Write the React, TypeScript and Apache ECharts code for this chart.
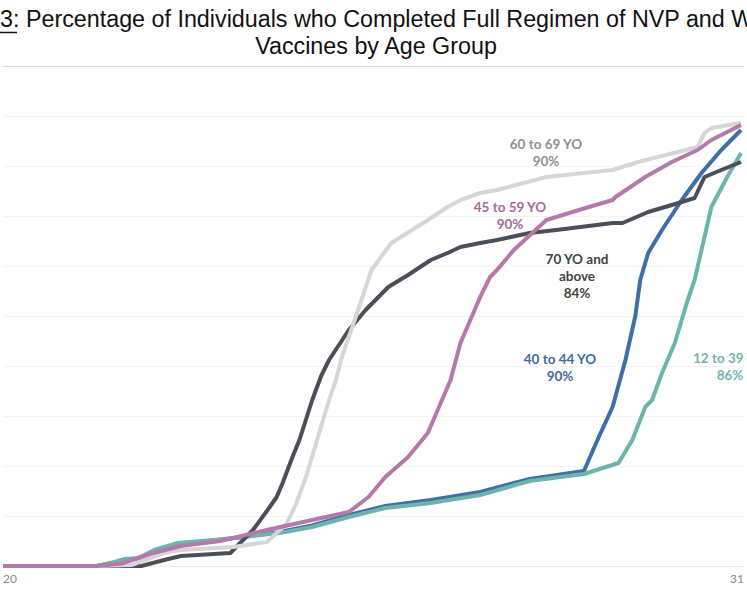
import { useEffect, useRef } from "react";
import * as echarts from "echarts";

// x = position along the time axis (0 .. 75), y = % fully vaccinated
const xTickLabels = ["20", "31"];

const age12to39 = [
  [0, 0], [9.5, 0], [11.3, 0.8], [12.3, 1.4], [13.7, 1.6], [15.3, 3.2], [17.7, 4.6],
  [21.3, 5.2], [24.3, 5.8], [28, 6.6], [31.3, 7.8], [35, 9.8], [38.7, 11.6], [43.3, 12.6],
  [48.3, 14.2], [53.3, 17], [58.8, 18.4], [62.3, 20.6], [63.7, 25.2], [65, 31.8],
  [65.7, 33.2], [66.7, 38.6], [68, 44.6], [69.3, 53.2], [70, 57.2], [71.7, 71.8],
  [73.3, 77.8], [74.7, 82.6],
];

const age40to44 = [
  [0, 0], [9.5, 0], [11.3, 0.7], [12.3, 1.2], [13.7, 1.5], [15.3, 3], [17.7, 4.4],
  [21.3, 5.1], [24.3, 5.8], [28, 6.8], [31.3, 8.1], [35, 10.2], [38.7, 12], [43.3, 13.2],
  [48.3, 14.8], [53.3, 17.4], [58.8, 19], [60.3, 25.8], [61.7, 31.8], [63, 41.2],
  [64, 50], [64.5, 57.2], [65.3, 62.6], [66.7, 67.2], [68.7, 73.2], [70.7, 78.6],
  [72.7, 83.2], [74.7, 87.2],
];

const age45to59 = [
  [0, 0], [9.5, 0], [12, 0.5], [15, 2.5], [18, 4], [22, 5], [26.7, 7.2], [31.3, 9.2],
  [35, 10.8], [37, 13.8], [38.7, 17.8], [41, 21.8], [43, 26.6], [44, 31.2], [45.3, 37.2],
  [46.3, 44.6], [48.3, 53.8], [49.3, 57.8], [50, 59.2], [51.7, 63.2], [55, 69.2],
  [59.3, 71.8], [61.7, 73.2], [62, 73.8], [65, 77.8], [67.7, 80.8], [70.3, 83.2],
  [71.7, 85.2], [74.7, 88.2],
];

const age60to69 = [
  [0, 0], [9.5, 0], [13, 0.2], [16.3, 2.6], [18, 3.2], [23.3, 3.8], [26.7, 4.8],
  [27.7, 6.6], [28.7, 8.4], [29.7, 12.6], [30.7, 18], [31.7, 24.6], [33, 33.2],
  [33.7, 37.2], [34.3, 41.8], [35.7, 49.8], [37.3, 59.2], [39.3, 64.6], [42.7, 68.8],
  [45, 71.8], [46.3, 73.2], [48.3, 74.6], [50, 75.2], [55, 77.8], [61.7, 79.2],
  [64.3, 80.8], [70.3, 83.8], [71, 86.6], [71.7, 87.6], [74.7, 88.6],
];

const age70plus = [
  [0, 0], [14, 0], [16.3, 1.2], [18, 2], [23, 2.6], [25, 6.6], [25.3, 7.2], [27, 11.8],
  [27.7, 13.8], [28.3, 16.6], [29.3, 21.8], [30, 25.2], [31.3, 33.2], [32.2, 38],
  [33, 41.2], [35, 47.2], [36.7, 51.2], [39, 55.8], [41, 58.2], [43.3, 61.2], [45, 62.6],
  [46.3, 63.8], [48.3, 64.6], [50, 65.2], [53.3, 66.6], [56, 67.2], [61.7, 68.6],
  [62.7, 68.6], [65.3, 70.8], [67.7, 72.2], [70, 73.6], [71, 77.8], [72.7, 79.2],
  [74.7, 80.8],
];

const seriesNames = ["40 to 44 YO", "12 to 39 YO", "70 YO and above", "60 to 69 YO", "45 to 59 YO"];
const seriesColors = ["#3f6fa5", "#6db5ac", "#4b5058", "#d6d6d6", "#b57aa9"];
const seriesData = [age40to44, age12to39, age70plus, age60to69, age45to59];

const labelFont = "Lato, 'Open Sans', sans-serif";
const titleFont = "23.3px 'Liberation Sans', Arial, sans-serif";

const App = () => {
  const chartRef = useRef(null);

  useEffect(() => {
    document.body.style.margin = "0";
    const chart = echarts.init(chartRef.current, null, { renderer: "svg" });

    // the 100% line is a little darker than the other grid lines
    const splitColors = ["#ececec", "#f3f3f3", "#f3f3f3", "#f3f3f3", "#f3f3f3", "#f3f3f3",
      "#f3f3f3", "#f3f3f3", "#f3f3f3", "#f3f3f3", "#d9d9d9"];

    const annot = (x: number, y: number, text: string, fill: string, align = "center") => ({
      type: "text",
      x,
      y,
      style: {
        text,
        font: `bold 13.5px ${labelFont}`,
        lineHeight: 17,
        fill,
        align,
        verticalAlign: "middle",
      },
    });

    const option = {
      animation: false,
      backgroundColor: "#ffffff",
      grid: { left: 0, right: 0, top: 66, bottom: 32, containLabel: false },
      xAxis: {
        type: "value",
        min: 0,
        max: 75,
        axisLine: { show: true, lineStyle: { color: "#ececec", width: 1 } },
        axisTick: { show: false },
        splitLine: { show: false },
        axisLabel: {
          customValues: [0, 75],
          formatter: (v: number) => (v === 0 ? xTickLabels[0] : xTickLabels[1]),
          alignMinLabel: "left",
          alignMaxLabel: "right",
          color: "#8a8a8a",
          fontFamily: labelFont,
          fontSize: 12,
          margin: 6,
        },
      },
      yAxis: {
        type: "value",
        min: 0,
        max: 100,
        interval: 10,
        axisLine: { show: false },
        axisTick: { show: false },
        axisLabel: { show: false },
        splitLine: { show: true, lineStyle: { color: splitColors, width: 1 } },
      },
      series: seriesData.map((d, i) => ({
        name: seriesNames[i],
        type: "line",
        data: d,
        showSymbol: false,
        smooth: false,
        lineStyle: { color: seriesColors[i], width: 4, join: "round" },
        itemStyle: { color: seriesColors[i] },
        z: 2 + i,
      })),
      graphic: [
        {
          type: "text",
          left: 0,
          top: 7,
          style: {
            text: "3: Percentage of Individuals who Completed Full Regimen of NVP and WHO EUL",
            font: titleFont,
            fill: "#111111",
          },
        },
        {
          type: "line",
          shape: { x1: 0, y1: 32.5, x2: 17, y2: 32.5 },
          style: { stroke: "#111111", lineWidth: 1.5 },
        },
        {
          type: "text",
          x: 376,
          y: 46,
          style: {
            text: "Vaccines by Age Group",
            font: titleFont,
            fill: "#111111",
            align: "center",
            verticalAlign: "middle",
          },
        },
        annot(546, 152, "60 to 69 YO\n90%", "#8f8f8f"),
        annot(510, 215, "45 to 59 YO\n90%", "#a8699d"),
        annot(577, 276, "70 YO and\nabove\n84%", "#434343"),
        annot(560, 367, "40 to 44 YO\n90%", "#3b6b9e"),
        annot(693, 358, "12 to 39 YO", "#72b4ac", "left"),
        annot(730, 375, "86%", "#72b4ac"),
      ],
    };
    chart.setOption(option);

    return () => {
      chart.dispose();
    };
  }, []);

  return <div ref={chartRef} style={{ width: 747, height: 598 }} />;
};

export default App;
